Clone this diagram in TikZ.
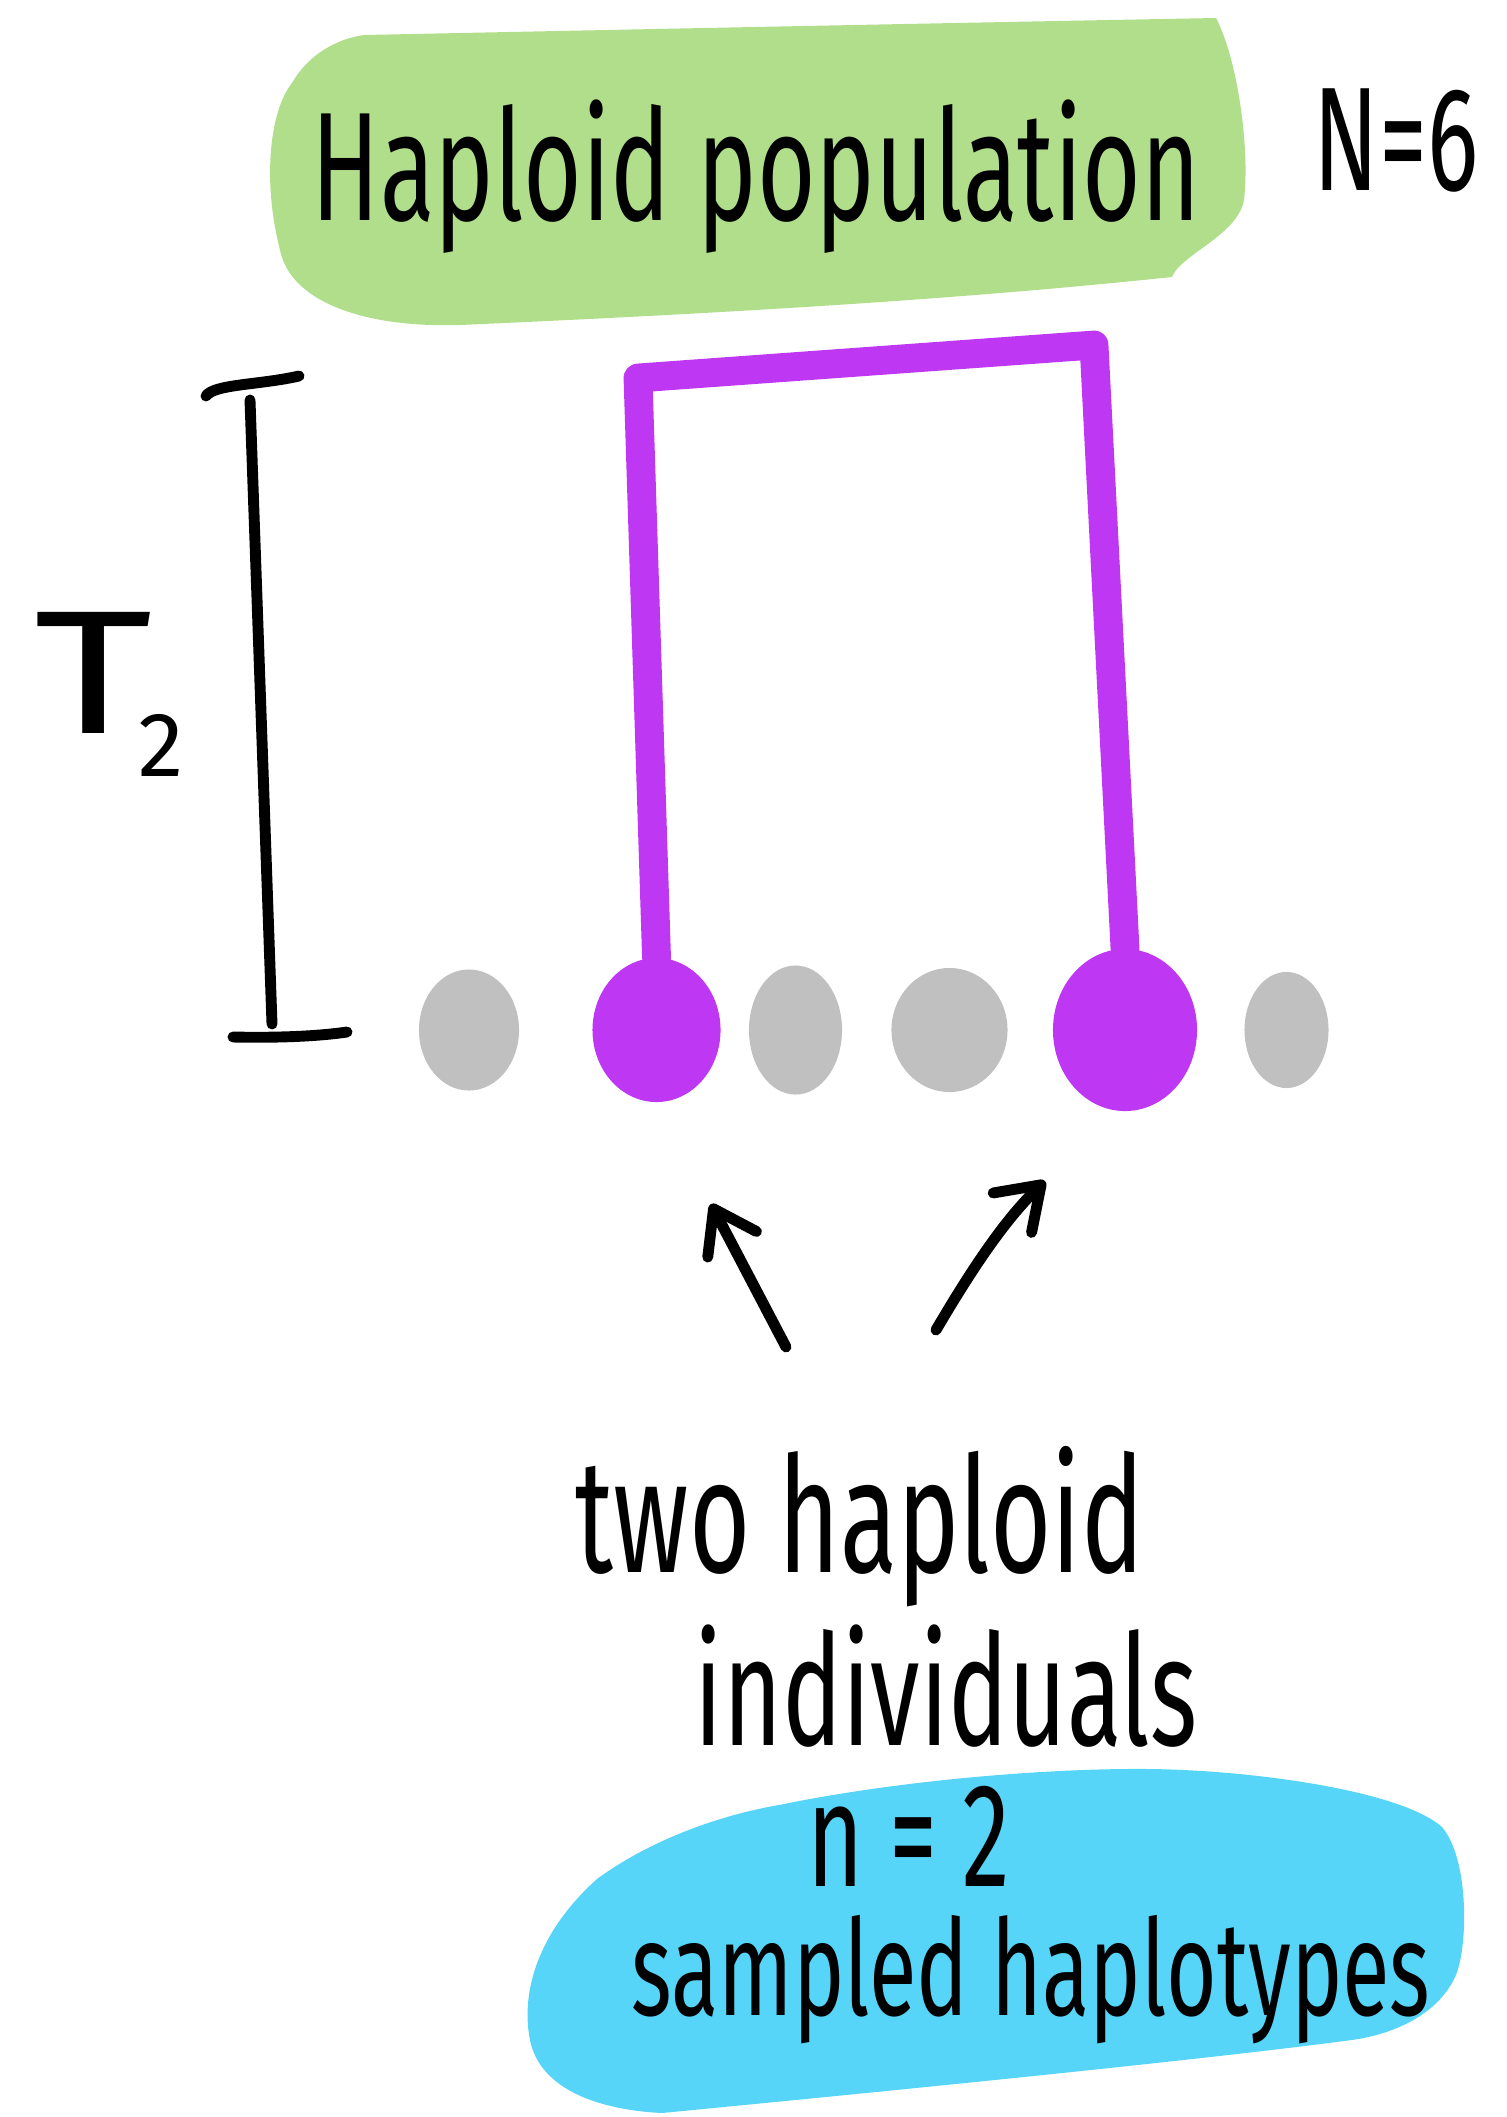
\documentclass[tikz,border=0pt]{standalone}
\usepackage{fontspec}
\usepackage{tikz}
\usetikzlibrary{arrows.meta,positioning,shapes.geometric}
\newfontfamily\handfont[FakeStretch=0.65]{Fira Sans}
\newfontfamily\labelfont{Fira Sans}
\definecolor{popgreen}{RGB}{177,222,139}
\definecolor{sampblue}{RGB}{86,213,248}
\definecolor{coalpurple}{RGB}{190,56,243}
\definecolor{dotgray}{RGB}{192,192,192}

\begin{document}
\begin{tikzpicture}[
    x=0.01cm, y=-0.01cm,
    hand/.style={font={\handfont\fontsize{#1}{#1}\selectfont}, inner sep=0pt},
    popdot/.style={ellipse, fill=dotgray, inner sep=0pt},
    sampdot/.style={ellipse, fill=coalpurple, inner sep=0pt},
    lineage/.style={draw=coalpurple, line width=8.2pt, line join=round, line cap=round},
    ink/.style={line width=3.1pt, line cap=round, line join=round},
    arrow/.style={ink, -{Straight Barb[round,length=4mm,width=5.5mm]}}
  ]
  \useasboundingbox (0,0) rectangle (1507,2117);

  % population blob
  \fill[popgreen] (364,35) .. controls (700,28) and (1000,22) .. (1216,18)
    .. controls (1238,60) and (1250,150) .. (1244,200)
    .. controls (1238,235) and (1180,255) .. (1172,277)
    .. controls (1000,295) and (800,310) .. (460,325)
    .. controls (360,328) and (290,300) .. (280,250)
    .. controls (262,180) and (270,110) .. (292,83)
    .. controls (305,60) and (330,40) .. (364,35) -- cycle;

  % sample blob
  \fill[sampblue] (1149,1769) .. controls (1250,1770) and (1400,1790) .. (1442,1827)
    .. controls (1470,1860) and (1468,1950) .. (1455,1977)
    .. controls (1440,2010) and (1400,2035) .. (1344,2041)
    .. controls (1200,2060) and (900,2090) .. (662,2113)
    .. controls (600,2110) and (540,2090) .. (530,2040)
    .. controls (520,1990) and (540,1930) .. (597,1879)
    .. controls (650,1840) and (720,1815) .. (779,1805)
    .. controls (900,1780) and (1050,1768) .. (1149,1769) -- cycle;

  \node[hand=44] (haploid) at (756,177) {Haploid population};
  \node[hand=42] (popsize) at (1396,140) {N=6};

  % individuals in the population
  \node[popdot, minimum width=1.0cm, minimum height=1.21cm] (ind1) at (469,1030) {};
  \node[sampdot, minimum width=1.28cm, minimum height=1.44cm, right=0.72cm of ind1] (samp1) {};
  \node[popdot, minimum width=0.93cm, minimum height=1.29cm, right=0.27cm of samp1] (ind2) {};
  \node[popdot, minimum width=1.16cm, minimum height=1.24cm, right=0.48cm of ind2] (ind3) {};
  \node[sampdot, minimum width=1.44cm, minimum height=1.62cm, right=0.44cm of ind3] (samp2) {};
  \node[popdot, minimum width=0.84cm, minimum height=1.16cm, right=0.46cm of samp2] (ind4) {};

  % coalescence of the two lineages
  \coordinate (mrcaleft) at (638,378);
  \coordinate (mrcaright) at (1094,345);
  \draw[lineage] (samp1.north) -- (mrcaleft) -- (mrcaright) -- (samp2.north);

  % time bar
  \coordinate (bartop) at (250,400);
  \coordinate (barbot) at (272,1024);
  \draw[ink] (bartop) -- (barbot);
  \draw[ink] (206,396) .. controls (214,384) and (260,385) .. (299,376);
  \draw[ink] (233,1037) .. controls (280,1038) and (320,1036) .. (347,1032);
  \node[anchor=north west, inner sep=0pt, font={\labelfont\fontsize{50}{50}\selectfont}] (tmrca) at (34,612)
    {\scalebox{1.3}[1]{T}\hspace{-4pt}\raisebox{-12pt}{\fontsize{26}{26}\selectfont 2}};

  % pointers to the sample
  \coordinate (lefttail) at (786,1347);
  \coordinate (lefttip) at (711,1204);
  \coordinate (righttail) at (936,1330);
  \coordinate (righttip) at (1045,1181);
  \draw[arrow] (lefttail) -- (lefttip);
  \draw[arrow] (righttail) .. controls (980,1255) and (1010,1215) .. (righttip);

  \node[hand=46] (twohap) at (860,1527) {two haploid};
  \node[hand=44] (indiv) at (946,1686) {individuals};
  \node[hand=42] (sampsize) at (909,1836) {n = 2};
  \node[hand=38] (samphap) at (1031,1980) {sampled haplotypes};
\end{tikzpicture}
\end{document}
